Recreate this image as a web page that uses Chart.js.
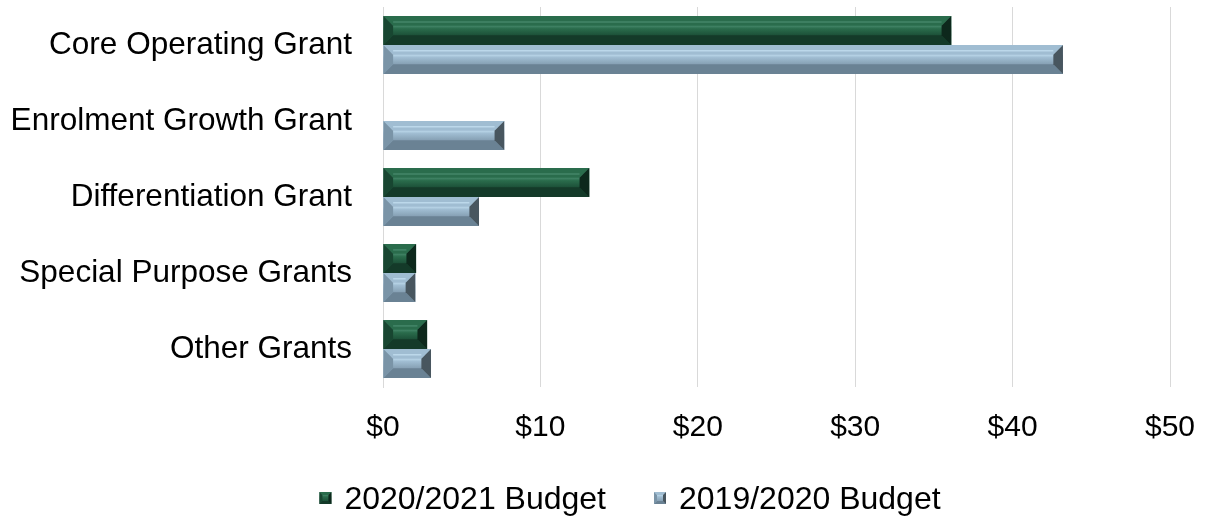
<!DOCTYPE html>
<html>
<head>
<meta charset="utf-8">
<script src="https://cdn.jsdelivr.net/npm/chart.js@4/dist/chart.umd.min.js"></script>
<style>
  html, body { margin: 0; padding: 0; background: #fff; }
  #wrap { width: 1207px; height: 518px; }
</style>
</head>
<body>
<div id="wrap"><canvas id="grants"></canvas></div>
<script>
// values (millions)
const categories = ["Core Operating Grant", "Enrolment Growth Grant", "Differentiation Grant",
                    "Special Purpose Grants", "Other Grants"]
const budget2021 = [36.1, 0, 13.1, 2.1, 2.8]
const budget2020 = [43.2, 7.7, 6.1, 2.05, 3.05]
const seriesNames = ["2020/2021 Budget", "2019/2020 Budget"]

// bevel shades: face, top, light stripe, bottom, left, right
const shades = [
    { face: "#1c5038", top: "#2a6c4c", stripe: "#448669", bottom: "#143a29", left: "#184631", right: "#0d281c" },
    { face: "#86a0b4", top: "#a0bdd2", stripe: "#bcd8ea", bottom: "#6a8294", left: "#7a94a7", right: "#48565f" }
]

const legendBoxW = 47   // spare room in front of each legend text, box is drawn inside it
const legendShift = 26

function poly(ctx, pts, color) {
    ctx.beginPath()
    ctx.moveTo(pts[0][0], pts[0][1])
    for (let i = 1; i < pts.length; i++) ctx.lineTo(pts[i][0], pts[i][1])
    ctx.closePath()
    ctx.fillStyle = color
    ctx.fill()
}

function bevelRect(ctx, x0, x1, yt, yb, sh, maxB) {
    const w = x1 - x0, h = yb - yt
    const b = Math.min(maxB, w / 2, h / 3)
    const g = ctx.createLinearGradient(0, yt + b, 0, yb - b)
    g.addColorStop(0, sh.stripe)
    g.addColorStop(0.3, sh.top)
    g.addColorStop(1, sh.face)
    ctx.fillStyle = g
    ctx.fillRect(x0, yt, w, h)
    poly(ctx, [[x0, yt], [x1, yt], [x1 - b, yt + b], [x0 + b, yt + b]], sh.top)
    poly(ctx, [[x0, yb], [x1, yb], [x1 - b, yb - b], [x0 + b, yb - b]], sh.bottom)
    poly(ctx, [[x0, yt], [x0 + b, yt + b], [x0 + b, yb - b], [x0, yb]], sh.left)
    poly(ctx, [[x1, yt], [x1 - b, yt + b], [x1 - b, yb - b], [x1, yb]], sh.right)
    return b
}

const bevelBars = {
    id: "bevelBars",
    // legend sits a bit right of centre in the original
    afterUpdate(chart) {
        const lg = chart.legend
        lg.left += legendShift
        lg.right += legendShift
        lg.legendHitBoxes.forEach(hb => { hb.left += legendShift })
    },
    // 3d bevel look over each bar, from the bar element positions
    afterDatasetsDraw(chart) {
        const ctx = chart.ctx
        chart.data.datasets.forEach((ds, di) => {
            const sh = shades[di]
            chart.getDatasetMeta(di).data.forEach(bar => {
                const p = bar.getProps(["x", "y", "base", "height"], true)
                const x0 = Math.min(p.base, p.x), x1 = Math.max(p.base, p.x)
                const yt = p.y - p.height / 2, yb = p.y + p.height / 2
                if (x1 - x0 < 1) return
                ctx.save()
                const b = bevelRect(ctx, x0, x1, yt, yb, sh, 10)
                ctx.strokeStyle = sh.stripe
                ctx.lineWidth = 1.5
                ctx.beginPath()
                ctx.moveTo(x0 + b, yt + b * 0.6)
                ctx.lineTo(x1 - b, yt + b * 0.6)
                ctx.stroke()
                ctx.restore()
            })
        })
    },
    // small bevelled legend squares, placed close to the text
    afterDraw(chart) {
        const ctx = chart.ctx
        const boxes = chart.legend.legendHitBoxes || []
        boxes.forEach((hb, i) => {
            const cy = hb.top + hb.height / 2 - 2
            const bx = hb.left + legendBoxW - 9
            ctx.save()
            bevelRect(ctx, bx, bx + 12, cy - 6, cy + 6, shades[i], 3)
            ctx.restore()
        })
    }
}

let ctx = document.getElementById("grants").getContext("2d")

const grantChart = new Chart(ctx, {
    type: "bar",
    data: {
        labels: categories,
        datasets: [
            { label: seriesNames[0], data: budget2021, backgroundColor: "#1c5038" },
            { label: seriesNames[1], data: budget2020, backgroundColor: "#86a0b4" }
        ]
    },
    options: {
        indexAxis: "y",
        responsive: true,
        maintainAspectRatio: false,
        animation: false,
        datasets: { bar: { categoryPercentage: 0.76, barPercentage: 1, borderWidth: 0 } },
        layout: { padding: { top: 7, left: 0, right: 37, bottom: -8 } },
        scales: {
            x: {
                min: 0,
                max: 50,
                ticks: {
                    stepSize: 10,
                    padding: 23,
                    color: "#000",
                    font: { size: 30, family: "'Liberation Sans', Arial, sans-serif" },
                    callback: v => "$" + v
                },
                grid: { color: "#d9d9d9", lineWidth: 1, tickLength: 0, drawTicks: false },
                border: { display: false },
                afterFit: s => {
                    s.height = 87
                    s.paddingLeft = 0
                    s.paddingRight = 0
                }
            },
            y: {
                ticks: {
                    padding: 31,
                    color: "#000",
                    font: { size: 31.5, family: "'Liberation Sans', Arial, sans-serif" }
                },
                grid: { display: false, drawTicks: false },
                border: { display: true, color: "#d9d9d9" },
                afterFit: s => {
                    s.width = 383
                    s.paddingTop = 0
                    s.paddingBottom = 0
                }
            }
        },
        plugins: {
            legend: {
                position: "bottom",
                labels: {
                    boxWidth: legendBoxW,
                    boxHeight: 12,
                    padding: 10,
                    color: "#000",
                    font: { size: 32, family: "'Liberation Sans', Arial, sans-serif" },
                    generateLabels: chart => Chart.defaults.plugins.legend.labels.generateLabels(chart).map(item => {
                        item.fillStyle = "rgba(0,0,0,0)"
                        item.strokeStyle = "rgba(0,0,0,0)"
                        item.lineWidth = 0
                        return item
                    })
                }
            },
            tooltip: { enabled: false }
        }
    },
    plugins: [bevelBars]
})
</script>
</body>
</html>
